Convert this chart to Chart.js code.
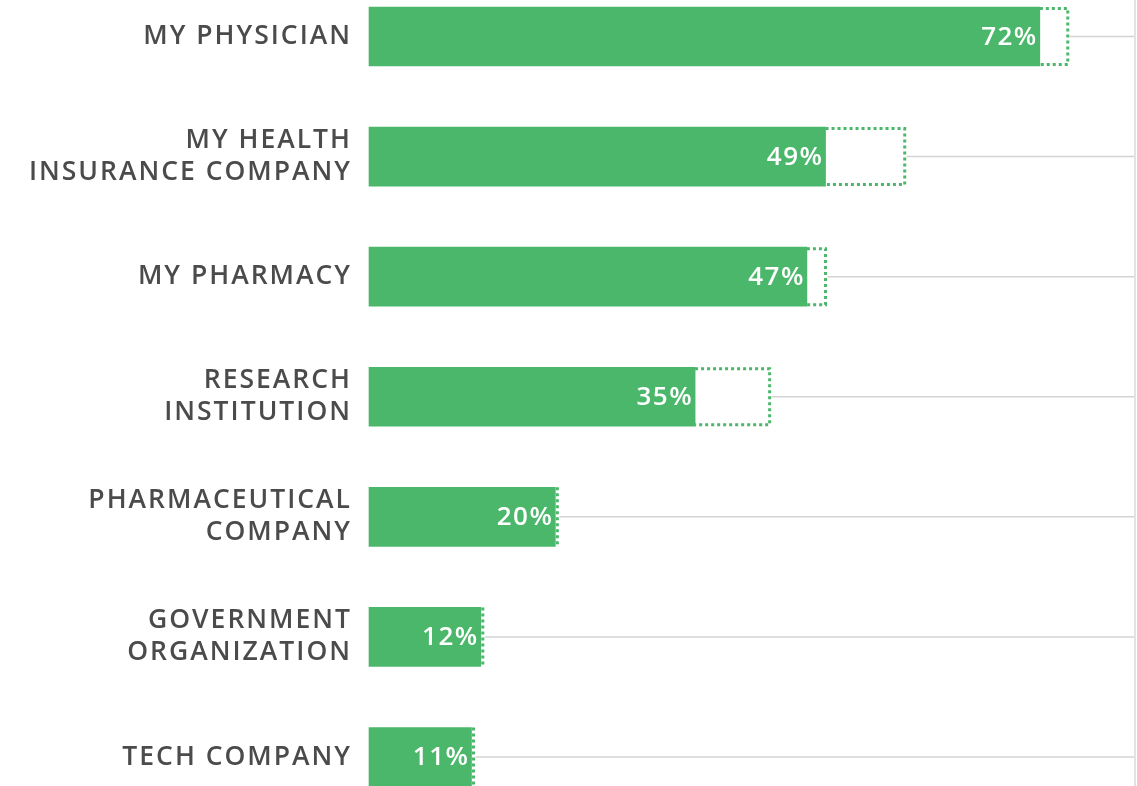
<!DOCTYPE html>
<html>
<head>
<meta charset="utf-8">
<script src="https://cdn.jsdelivr.net/npm/chart.js@4/dist/chart.umd.min.js"></script>
<style>
  html, body { margin: 0; padding: 0; background: #fff; }
  #wrap { width: 1137px; height: 786px; position: relative; }
</style>
</head>
<body>
<div id="wrap"><canvas id="chart"></canvas></div>
<script>
// who people trust with their health data
const categories = [
  ['MY PHYSICIAN'],
  ['MY HEALTH', 'INSURANCE COMPANY'],
  ['MY PHARMACY'],
  ['RESEARCH', 'INSTITUTION'],
  ['PHARMACEUTICAL', 'COMPANY'],
  ['GOVERNMENT', 'ORGANIZATION'],
  ['TECH COMPANY'],
];
const currentValues = [72, 49, 47, 35, 20, 12, 11];
// dotted outline = earlier survey value
const outlineValues = [75, 57.5, 49, 43, 20, 12, 11];
const xMax = 82;

const GREEN = '#4ab76a';

// dotted outlines, guide lines and value labels
const extrasPlugin = {
  id: 'extras',
  beforeDraw(chart) {
    chart.ctx.letterSpacing = '2px';
  },
  afterDatasetsDraw(chart) {
    const ctx = chart.ctx;
    const xs = chart.scales.x;
    const meta = chart.getDatasetMeta(0);
    ctx.save();
    meta.data.forEach((bar, i) => {
      const y = bar.y;
      const top = y - bar.height / 2;
      const bottom = y + bar.height / 2;
      const x0 = xs.getPixelForValue(currentValues[i]);
      const x1 = xs.getPixelForValue(outlineValues[i]);
      const endX = Math.max(x0 + 2, x1);

      // gray guide line
      ctx.setLineDash([]);
      ctx.strokeStyle = '#d4d4d4';
      ctx.lineWidth = 1.5;
      ctx.beginPath();
      ctx.moveTo(endX + 2, y);
      ctx.lineTo(chart.width - 3, y);
      ctx.stroke();

      // dotted outline
      ctx.setLineDash([3, 3]);
      ctx.strokeStyle = GREEN;
      ctx.lineWidth = 3;
      ctx.beginPath();
      if (x1 - x0 > 3) {
        ctx.moveTo(x0, top + 1.5);
        ctx.lineTo(x1, top + 1.5);
        ctx.lineTo(x1, bottom - 1.5);
        ctx.lineTo(x0, bottom - 1.5);
      } else {
        ctx.moveTo(x0 + 2, top);
        ctx.lineTo(x0 + 2, bottom);
      }
      ctx.stroke();

      // value label
      ctx.letterSpacing = '1.5px';
      ctx.fillStyle = '#ffffff';
      ctx.font = '600 26px "Open Sans", Lato, sans-serif';
      ctx.textAlign = 'right';
      ctx.textBaseline = 'middle';
      ctx.fillText(currentValues[i] + '%', x0 - 2, y + 1);
    });

    // right border
    ctx.setLineDash([]);
    ctx.strokeStyle = '#e3e3e3';
    ctx.lineWidth = 2;
    ctx.beginPath();
    ctx.moveTo(chart.width - 2, 0);
    ctx.lineTo(chart.width - 2, chart.height);
    ctx.stroke();
    ctx.restore();
  },
};

new Chart(document.getElementById('chart'), {
  type: 'bar',
  data: {
    labels: categories,
    datasets: [{
      data: currentValues,
      backgroundColor: GREEN,
      borderWidth: 0,
      barThickness: 59,
      clip: false,
    }],
  },
  options: {
    indexAxis: 'y',
    responsive: true,
    maintainAspectRatio: false,
    animation: false,
    layout: { padding: { top: 36.5, bottom: 29, right: 4, left: 0 } },
    plugins: {
      legend: { display: false },
      tooltip: { enabled: false },
    },
    scales: {
      x: {
        display: false,
        min: 0,
        max: xMax,
      },
      y: {
        offset: false,
        grid: { display: false, drawTicks: false },
        border: { display: false },
        afterFit: (scale) => {
          scale.width = 369;
          scale.paddingTop = 0;
          scale.paddingBottom = 0;
        },
        ticks: {
          padding: 17,
          color: '#4b4b4b',
          font: { family: '"Open Sans", Lato, sans-serif', size: 26.5, weight: 600, lineHeight: 1.21 },
        },
      },
    },
  },
  plugins: [extrasPlugin],
});
</script>
</body>
</html>
